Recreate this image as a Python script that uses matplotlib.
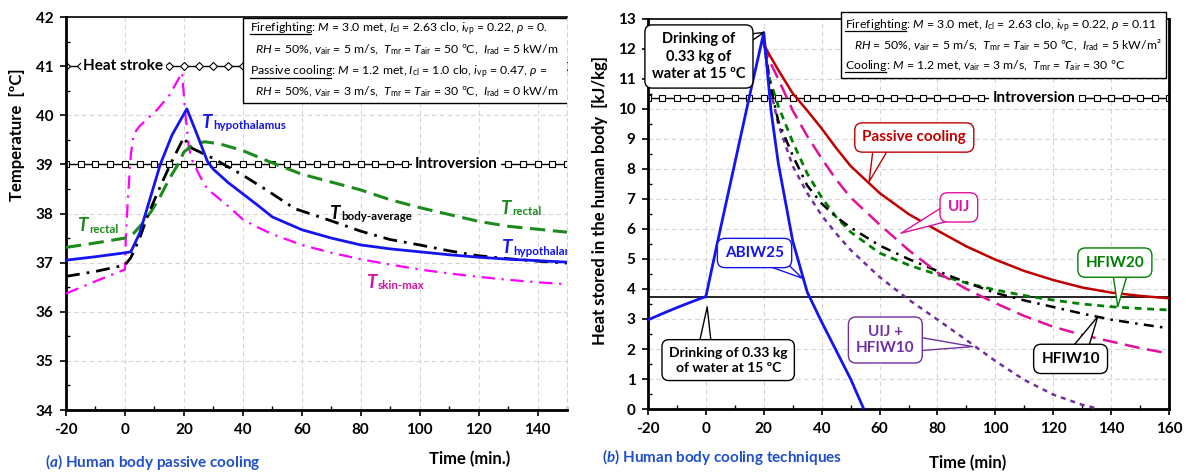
import matplotlib
matplotlib.use('Agg')
import matplotlib.pyplot as plt
from matplotlib import font_manager
from matplotlib.lines import Line2D
from matplotlib.patches import Rectangle
from matplotlib.ticker import MultipleLocator
import numpy as np

names = {f.name for f in font_manager.fontManager.ttflist}
FONT = 'Liberation Sans Narrow' if 'Liberation Sans Narrow' in names else 'Lato'
plt.rcParams['font.family'] = [FONT, 'DejaVu Sans']
plt.rcParams['mathtext.fontset'] = 'custom'
plt.rcParams['mathtext.rm'] = FONT
plt.rcParams['mathtext.it'] = FONT + ':italic'
plt.rcParams['mathtext.bf'] = FONT + ':bold'
plt.rcParams['mathtext.bfit'] = FONT + ':italic:bold'
plt.rcParams['axes.unicode_minus'] = False

# ---- (a) passive cooling: temperatures [ºC] vs time [min]
t_hyp = [-20, -10, 0, 2, 5, 8, 12, 16, 21, 24, 28, 30, 35, 40, 45, 50, 60, 70, 80, 90, 100, 110, 120, 130, 140, 150]
T_hyp = [37.05, 37.12, 37.2, 37.22, 37.6, 38.2, 39.0, 39.6, 40.13, 39.68, 39.06, 38.9, 38.63, 38.4, 38.17, 37.93,
         37.67, 37.5, 37.36, 37.28, 37.22, 37.16, 37.11, 37.07, 37.04, 37.01]
t_rec = [-20, -10, 0, 3, 6, 9, 12, 15, 18, 20, 23, 27, 32, 40, 50, 60, 70, 80, 90, 100, 110, 120, 130, 140, 150]
T_rec = [37.31, 37.4, 37.5, 37.6, 37.8, 38.05, 38.35, 38.7, 39.0, 39.25, 39.4, 39.46, 39.42, 39.28, 39.03, 38.8,
         38.64, 38.48, 38.28, 38.12, 37.98, 37.84, 37.74, 37.68, 37.62]
t_avg = [-20, -10, 0, 2, 5, 8, 12, 15.4, 20, 22, 30, 40, 48.5, 57.6, 70, 80, 90, 100, 110, 120, 130, 140, 150]
T_avg = [36.72, 36.82, 36.95, 37.1, 37.5, 38.0, 38.55, 39.0, 39.55, 39.35, 39.12, 38.78, 38.46, 38.1, 37.85,
         37.64, 37.47, 37.36, 37.24, 37.14, 37.08, 37.03, 36.99]
t_skin = [-20, -10, 0, 0.3, 1.0, 2.0, 3.0, 5, 8, 11, 15, 19.4, 20.4, 21.7, 23, 25.7, 28, 31.4, 35, 40, 45, 50,
          60, 70, 80, 90, 100, 110, 120, 130, 140, 150]
T_skin = [36.37, 36.62, 36.86, 37.5, 38.3, 39.2, 39.62, 39.78, 39.95, 40.12, 40.4, 40.87, 40.09, 39.34, 39.05,
          38.73, 38.5, 38.33, 38.15, 37.88, 37.72, 37.58, 37.36, 37.2, 37.07, 36.96, 36.86, 36.78, 36.71, 36.65,
          36.6, 36.56]
heat_stroke = 41.0
introversion_T = 39.0

# ---- (b) cooling techniques: heat stored [kJ/kg] vs time [min]
t_abiw = [-20, -15, -10, -5, 0, 5, 10, 15, 20, 22.5, 25, 30, 35, 40, 45, 50, 55]
abiw25 = [2.97, 3.18, 3.38, 3.57, 3.75, 6.0, 8.2, 10.4, 12.55, 9.95, 8.2, 5.6, 3.9, 2.9, 1.95, 1.0, -0.1]
t_cool = [20, 22, 25, 30, 35, 40, 45, 50, 60, 70, 80, 90, 100, 110, 120, 130, 140, 150, 160]
passive = [12.15, 11.8, 11.3, 10.52, 9.95, 9.35, 8.7, 8.1, 7.2, 6.5, 5.95, 5.42, 4.98, 4.6, 4.3, 4.05, 3.88, 3.77, 3.69]
uij = [12.2, 11.6, 11.0, 9.95, 9.1, 8.35, 7.65, 7.05, 6.15, 5.3, 4.55, 4.0, 3.53, 3.1, 2.74, 2.47, 2.25, 2.03, 1.85]
hfiw20 = [12.3, 11.0, 10.1, 8.9, 7.85, 7.05, 6.4, 5.9, 5.2, 4.8, 4.48, 4.2, 3.97, 3.78, 3.63, 3.5, 3.41, 3.35, 3.3]
hfiw10 = [12.3, 10.9, 9.6, 8.45, 7.45, 6.85, 6.4, 6.05, 5.45, 5.0, 4.6, 4.22, 3.87, 3.62, 3.4, 3.18, 2.98, 2.83, 2.69]
t_mix = [20, 22, 25, 30, 35, 40, 45, 50, 60, 70, 80, 90, 100, 110, 120, 130, 136]
uij_hfiw10 = [12.3, 10.8, 9.5, 8.1, 7.2, 6.45, 5.85, 5.3, 4.4, 3.65, 2.98, 2.3, 1.6, 0.97, 0.48, 0.14, 0.0]
introversion_Q = 10.38
drinking_Q = 3.75

BLUE = '#1414f0'
GREEN = '#1d8a1d'
MAGENTA = '#ff00ff'
RED = '#c00000'
PINK = '#e0109a'
PURPLE = '#7030a0'
CAP = '#1f4fcc'

W, H = 1186, 473
fig = plt.figure(figsize=(W / 100, H / 100), dpi=100)
ax1 = fig.add_axes([66 / W, 1 - 410 / H, 501 / W, 393 / H])
ax2 = fig.add_axes([648 / W, 1 - 409 / H, 521 / W, 390 / H])


def px(x, y):
    return x / W, 1 - y / H


def style_axes(ax, right=True):
    ax.grid(True, which='major', color='#d4d4d4', ls=(0, (4, 3)), lw=0.8)
    ax.set_axisbelow(True)
    ax.xaxis.set_major_locator(MultipleLocator(20))
    ax.xaxis.set_minor_locator(MultipleLocator(10))
    ax.yaxis.set_major_locator(MultipleLocator(1))
    ax.yaxis.set_minor_locator(MultipleLocator(0.5))
    ax.tick_params(which='major', direction='out', length=4, width=1.2, labelsize=11, pad=5)
    ax.tick_params(which='minor', direction='in', length=3, width=1)
    for lab in ax.get_xticklabels() + ax.get_yticklabels():
        lab.set_fontweight('bold')
    ax.spines['left'].set_linewidth(2)
    ax.spines['bottom'].set_linewidth(2)
    ax.spines['top'].set_linewidth(1.2)
    if right:
        ax.spines['right'].set_linewidth(2)
    else:
        ax.spines['right'].set_color('#d4d4d4')
        ax.spines['right'].set_linestyle((0, (4, 3)))
        ax.spines['right'].set_linewidth(0.8)


def t_label(ax, x, y, sub, color, clip=False):
    # italic T with a small bold subscript, as in the reference
    t = ax.text(x, y, 'T', color=color, fontsize=13.5, fontweight='bold', fontstyle='italic',
                va='center', clip_on=clip)
    ax.annotate(sub, xy=(1, 0), xycoords=t, xytext=(0.6, 1.2), textcoords='offset points', color=color,
                fontsize=8.3, fontweight='bold', va='baseline', clip_on=clip)


# ================= panel (a)
t_ref1 = np.arange(-20, 151, 5)
ax1.plot(t_ref1, np.full(len(t_ref1), heat_stroke), color='black', lw=1, marker='D', ms=4,
         mfc='white', mec='black', mew=0.8, zorder=2)
ax1.plot(t_ref1, np.full(len(t_ref1), introversion_T), color='black', lw=1, marker='s', ms=4.5,
         mfc='white', mec='black', mew=0.8, zorder=2)
ax1.text(-0.5, heat_stroke, 'Heat stroke', ha='center', va='center', fontsize=11, fontweight='bold',
         bbox=dict(fc='white', ec='none', pad=2), zorder=3)
ax1.text(112.5, introversion_T, 'Introversion', ha='center', va='center', fontsize=11, fontweight='bold',
         bbox=dict(fc='white', ec='none', pad=2.5), zorder=3)

ax1.plot(t_skin, T_skin, color=MAGENTA, lw=1.6, ls=(0, (6, 3, 1, 3)), zorder=4)
ax1.plot(t_rec, T_rec, color=GREEN, lw=2.2, ls=(0, (5, 2.5)), zorder=4)
ax1.plot(t_avg, T_avg, color='black', lw=2, ls=(0, (5, 2.5, 1, 2.5)), zorder=4)
ax1.plot(t_hyp, T_hyp, color=BLUE, lw=2, zorder=4)

t_label(ax1, 26, 39.85, 'hypothalamus', BLUE)
t_label(ax1, -16, 37.75, 'rectal', GREEN)
t_label(ax1, 69.5, 38.0, 'body-average', 'black')
t_label(ax1, 127.7, 38.1, 'rectal', GREEN)
t_label(ax1, 128, 37.3, 'hypothalamus', BLUE, clip=True)
t_label(ax1, 82, 36.6, 'skin-max', '#d4129e')

ax1.set_xlim(-20, 150)
ax1.set_ylim(34, 42)
style_axes(ax1, right=False)

FS = 8.8
ax1.add_patch(Rectangle((0.353, 0.78), 0.7, 0.217, transform=ax1.transAxes, fc='white', ec='black',
                        lw=1, zorder=5, clip_on=True))
left_lines = [
    (0.367, 0.962, r'Firefighting: $M$ = 3.0 met, $I_{\rm cl}$ = 2.63 clo, $i_{\rm vp}$ = 0.22, $\rho$ = 0.', 'Firefighting'),
    (0.377, 0.908, r'$RH$ = 50%, $v_{\rm air}$ = 5 m/s,  $T_{\rm mr}$ = $T_{\rm air}$ = 50 ºC,  $I_{\rm rad}$ = 5 kW/m', None),
    (0.367, 0.852, r'Passive cooling: $M$ = 1.2 met, $I_{\rm cl}$ = 1.0 clo, $i_{\rm vp}$ = 0.47, $\rho$ =', 'Passive cooling'),
    (0.377, 0.802, r'$RH$ = 50%, $v_{\rm air}$ = 3 m/s,  $T_{\rm mr}$ = $T_{\rm air}$ = 30 ºC,  $I_{\rm rad}$ = 0 kW/m', None),
]
underline_jobs = []
for x, y, s, u in left_lines:
    ax1.text(x, y, s, transform=ax1.transAxes, fontsize=FS, va='baseline', zorder=6, clip_on=True)
    if u:
        underline_jobs.append(ax1.text(x, y, u, transform=ax1.transAxes, fontsize=FS, va='baseline',
                                       alpha=0, zorder=6))

# ================= panel (b)
t_ref2 = np.arange(-20, 161, 5)
ax2.plot(t_ref2, np.full(len(t_ref2), introversion_Q), color='black', lw=1, marker='s', ms=4.5,
         mfc='white', mec='black', mew=0.8, zorder=2)
ax2.axhline(drinking_Q, color='black', lw=1.2, zorder=2)
ax2.text(113.5, introversion_Q, 'Introversion', ha='center', va='center', fontsize=11, fontweight='bold',
         bbox=dict(fc='white', ec='none', pad=2.5), zorder=3)

ax2.plot(t_mix, uij_hfiw10, color=PURPLE, lw=1.8, ls=(0, (2, 2)), zorder=4)
ax2.plot(t_cool, hfiw20, color='#008000', lw=2, ls=(0, (2.5, 2)), zorder=4)
ax2.plot(t_cool, hfiw10, color='black', lw=1.8, ls=(0, (4, 2.5, 1, 2.5)), zorder=4)
ax2.plot(t_cool, uij, color=PINK, lw=1.8, ls=(0, (6, 3)), zorder=4)
ax2.plot(t_cool, passive, color=RED, lw=1.8, zorder=4)
ax2.plot(t_abiw, abiw25, color=BLUE, lw=2, zorder=4)


def callout(ax, text, xy, xytext, color, size=11, relpos=(0.5, 0.5), tail=1.2, ls=1.1):
    ax.annotate(text, xy=xy, xytext=xytext, textcoords='data', ha='center', va='center', color=color,
                fontsize=size, fontweight='bold', linespacing=ls, zorder=7,
                bbox=dict(boxstyle='round,pad=0.5,rounding_size=0.5', fc='white', ec=color, lw=1.0),
                arrowprops=dict(arrowstyle='wedge,tail_width=%s,shrink_factor=0.5' % tail, fc='white',
                                ec=color, lw=1.0, patchA=None, shrinkA=0, shrinkB=0, relpos=relpos))


callout(ax2, 'Drinking of\n0.33 kg of\nwater at 15 ºC', (20, 12.55), (-2.4, 11.75), 'black', size=10.5,
        relpos=(0.85, 0.75), ls=1.3)
callout(ax2, 'Drinking of 0.33 kg\nof water at 15 ºC', (0.45, 3.4), (7.7, 1.63), 'black', size=10,
        relpos=(0.3, 0.6), ls=1.3)
callout(ax2, 'ABIW25', (33.3, 4.36), (16.8, 5.2), BLUE, relpos=(0.7, 0.3))
callout(ax2, 'UIJ +\nHFIW10', (92.2, 2.08), (62, 2.3), PURPLE, relpos=(0.75, 0.4), ls=1.25)
callout(ax2, 'UIJ', (67.4, 5.86), (87.4, 6.72), PINK, relpos=(0.3, 0.3))
callout(ax2, 'Passive cooling', (56.4, 7.58), (72, 9.05), RED, relpos=(0.2, 0.3))
callout(ax2, 'HFIW20', (142.3, 3.41), (141.3, 4.88), '#008000', relpos=(0.6, 0.3))
callout(ax2, 'HFIW10', (135.4, 3.08), (126, 1.67), 'black', relpos=(0.6, 0.7))

ax2.set_xlim(-20, 160)
ax2.set_ylim(0, 13)
style_axes(ax2, right=True)

fig.patches.append(Rectangle(px(841, 78), 325 / W, 66 / H, transform=fig.transFigure,
                             fc='white', ec='black', lw=1, zorder=5))
right_lines = [
    (845, 29, r'Firefighting: $M$ = 3.0 met, $I_{\rm cl}$ = 2.63 clo, $i_{\rm vp}$ = 0.22, $\rho$ = 0.11', 'Firefighting'),
    (854, 49, r'$RH$ = 50%, $v_{\rm air}$ = 5 m/s,  $T_{\rm mr}$ = $T_{\rm air}$ = 50 ºC,  $I_{\rm rad}$ = 5 kW/m²', None),
    (845, 69, r'Cooling: $M$ = 1.2 met, $v_{\rm air}$ = 3 m/s,  $T_{\rm mr}$ = $T_{\rm air}$ = 30 ºC', 'Cooling'),
]
for x, y, s, u in right_lines:
    fig.text(*px(x, y), s, fontsize=FS, va='baseline', zorder=6)
    if u:
        underline_jobs.append(fig.text(*px(x, y), u, fontsize=FS, va='baseline', alpha=0, zorder=6))

# axis titles and captions
fig.text(*px(17, 135), 'Temperature  [ºC]', rotation=90, ha='center', va='center', fontsize=12,
         fontweight='bold')
fig.text(*px(600, 200), 'Heat stored in the human body  [kJ/kg]', rotation=90, ha='center', va='center',
         fontsize=12, fontweight='bold')
fig.text(*px(470, 459), 'Time (min.)', ha='center', va='center', fontsize=12, fontweight='bold')
fig.text(*px(968, 463), 'Time (min)', ha='center', va='center', fontsize=12, fontweight='bold')
fig.text(*px(45, 462), r'($\mathbfit{a}$) Human body passive cooling', color=CAP, fontsize=11,
         fontweight='bold', va='center')
fig.text(*px(602, 457), r'($\mathbfit{b}$) Human body cooling techniques', color=CAP, fontsize=11,
         fontweight='bold', va='center')

# underline the headings in the condition boxes
renderer = fig.canvas.get_renderer()
for t in underline_jobs:
    bb = t.get_window_extent(renderer)
    x0, _ = fig.transFigure.inverted().transform((bb.x0, bb.y0))
    x1, _ = fig.transFigure.inverted().transform((bb.x1, bb.y0))
    yb = t.get_transform().transform(t.get_position())[1]
    yb = fig.transFigure.inverted().transform((0, yb - 2.5))[1]
    fig.add_artist(Line2D([x0, x1], [yb, yb], color='black', lw=0.9, transform=fig.transFigure, zorder=7))

fig.savefig('out.png', dpi=100)
